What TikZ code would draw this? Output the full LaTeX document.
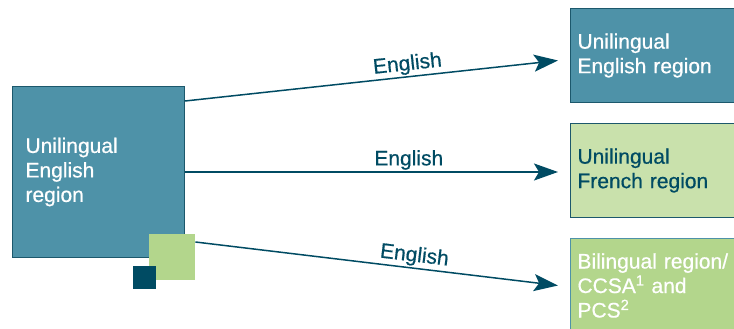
\documentclass[tikz,border=0pt]{standalone}
\usepackage{fontspec}
\setmainfont{Liberation Sans}[FakeBold=0.6]
\usetikzlibrary{positioning,arrows.meta}
\definecolor{regteal}{RGB}{78,146,168}
\definecolor{regline}{RGB}{28,88,108}
\definecolor{regdark}{RGB}{0,75,99}
\definecolor{reglight}{RGB}{201,225,172}
\definecolor{reggreen}{RGB}{179,214,140}

\begin{document}
\begin{tikzpicture}[
  x=1pt,y=-1pt,
  every node/.style={font=\fontsize{21}{24.5}\selectfont},
  region/.style={rectangle,draw=regline,line width=1pt,anchor=north west,align=left,inner ysep=0pt},
  target/.style={region,inner xsep=7pt,text width=160pt,minimum height=94pt},
  square/.style={rectangle,anchor=north west,inner sep=0pt,minimum size=#1},
  link/.style={draw=regdark,line width=1.5pt,-{Stealth[length=24pt,width=17pt,inset=5pt]}},
  lang/.style={sloped,above,pos=0.6,inner sep=1.5pt,text=regdark,font=\fontsize{21}{24}\selectfont},
]
\useasboundingbox (0,0) rectangle (734,329);

\node (src) [region,fill=regteal,text=white,inner xsep=13pt,text width=146pt,minimum height=171pt] at (12,86) {Unilingual\\English\\region};
\node (deco) [square=46pt,fill=reggreen] at (149,234) {};
\node (mark) [square=23pt,fill=regdark] at (133,266) {};

\node (tgtA) [target,fill=regteal,text=white] at (570,8) {Unilingual\\English region};
\node (tgtB) [target,fill=reglight,text=regdark] at (570,123) {Unilingual\\French region};
\node (tgtC) [target,fill=reggreen,draw=regteal,text=white] at (570,238) {Bilingual region/\\CCSA\textsuperscript{1} and\\PCS\textsuperscript{2}};

\draw[link] ([yshift=-15pt]src.north east) to node[lang] {English} ([xshift=-12pt,yshift=-5pt]tgtA.west);
\draw[link] (src.east) to node[lang] {English} ([xshift=-12pt]src.east -| tgtB.west);
\draw[link] ([yshift=-8pt]deco.north east) to node[lang] {English} ([xshift=-12pt]tgtC.west);
\end{tikzpicture}
\end{document}
